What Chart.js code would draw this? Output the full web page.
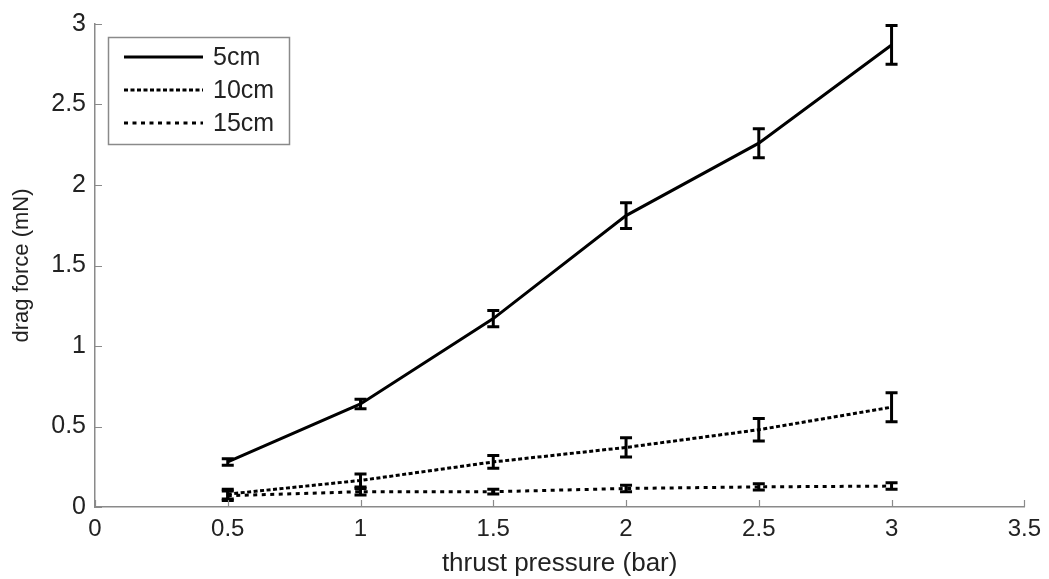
<!DOCTYPE html>
<html>
<head>
<meta charset="utf-8">
<script src="https://cdn.jsdelivr.net/npm/chart.js@4"></script>
<style>
  html, body { margin: 0; padding: 0; background: #fff; }
  #wrap { width: 1049px; height: 579px; }
</style>
</head>
<body>
<div id="wrap"><canvas id="chart"></canvas></div>
<script>
const pressures = [0.5, 1, 1.5, 2, 2.5, 3];

const force5 = [0.28, 0.64, 1.17, 1.81, 2.26, 2.87];
const err5 = [0.02, 0.03, 0.05, 0.08, 0.09, 0.12];

const force10 = [0.08, 0.165, 0.28, 0.37, 0.48, 0.62];
const err10 = [0.03, 0.04, 0.04, 0.06, 0.07, 0.09];

const force15 = [0.07, 0.095, 0.095, 0.115, 0.125, 0.13];
const err15 = [0.03, 0.02, 0.015, 0.02, 0.02, 0.02];

const xTicks = [0, 0.5, 1, 1.5, 2, 2.5, 3, 3.5];
const yTicks = [0, 0.5, 1, 1.5, 2, 2.5, 3];

const FONT = "'Liberation Sans', Arial, sans-serif";
const AXIS_GREY = '#8a8a8a';
const TEXT = '#222';

const toPoints = (values) => pressures.map((x, i) => ({ x, y: values[i] }));

const seriesList = [
  { label: '5cm', values: force5, errors: err5, dash: [] },
  { label: '10cm', values: force10, errors: err10, dash: [4, 2.5] },
  { label: '15cm', values: force15, errors: err15, dash: [4, 4.5] }
];

// vertical error bars with flat caps
const errorBarPlugin = {
  id: 'errorBars',
  afterDatasetsDraw(chart) {
    const { ctx, scales } = chart;
    ctx.save();
    ctx.strokeStyle = '#000';
    ctx.lineWidth = 3;
    ctx.setLineDash([]);
    chart.data.datasets.forEach((ds) => {
      ds.data.forEach((pt, i) => {
        const e = ds.errors[i];
        const x = scales.x.getPixelForValue(pt.x);
        const yTop = scales.y.getPixelForValue(pt.y + e);
        const yBot = scales.y.getPixelForValue(pt.y - e);
        ctx.beginPath();
        ctx.moveTo(x, yTop);
        ctx.lineTo(x, yBot);
        ctx.moveTo(x - 6, yTop);
        ctx.lineTo(x + 6, yTop);
        ctx.moveTo(x - 6, yBot);
        ctx.lineTo(x + 6, yBot);
        ctx.stroke();
      });
    });
    ctx.restore();
  }
};

// inward ticks, matlab style
const innerTickPlugin = {
  id: 'innerTicks',
  afterDraw(chart) {
    const { ctx, scales, chartArea } = chart;
    ctx.save();
    ctx.strokeStyle = AXIS_GREY;
    ctx.lineWidth = 1.2;
    ctx.beginPath();
    xTicks.forEach((v) => {
      const x = Math.round(scales.x.getPixelForValue(v)) + 0.5;
      ctx.moveTo(x, chartArea.bottom);
      ctx.lineTo(x, chartArea.bottom - 7);
    });
    yTicks.forEach((v) => {
      const y = Math.round(scales.y.getPixelForValue(v)) + 0.5;
      ctx.moveTo(chartArea.left, y);
      ctx.lineTo(chartArea.left + 7, y);
    });
    ctx.stroke();
    ctx.restore();
  }
};

const legendBoxPlugin = {
  id: 'legendBox',
  afterDraw(chart) {
    const { ctx } = chart;
    const left = 108, top = 37, w = 181, h = 107;
    ctx.save();
    ctx.fillStyle = '#fff';
    ctx.fillRect(left, top, w, h);
    ctx.strokeStyle = AXIS_GREY;
    ctx.lineWidth = 1.5;
    ctx.strokeRect(left + 0.5, top + 0.5, w, h);
    ctx.font = `25px ${FONT}`;
    ctx.textBaseline = 'middle';
    ctx.fillStyle = TEXT;
    seriesList.forEach((s, i) => {
      const y = 57 + i * 33;
      ctx.strokeStyle = '#000';
      ctx.lineWidth = 3;
      ctx.setLineDash(s.dash);
      ctx.beginPath();
      ctx.moveTo(124, y);
      ctx.lineTo(203, y);
      ctx.stroke();
      ctx.setLineDash([]);
      ctx.fillText(s.label, 213, y + 1);
    });
    ctx.restore();
  }
};

new Chart(document.getElementById('chart'), {
  type: 'line',
  data: {
    datasets: seriesList.map((s) => ({
      label: s.label,
      data: toPoints(s.values),
      errors: s.errors,
      borderColor: '#000',
      borderWidth: 3,
      borderDash: s.dash,
      pointRadius: 0,
      tension: 0,
      fill: false
    }))
  },
  options: {
    responsive: true,
    maintainAspectRatio: false,
    animation: false,
    layout: { padding: { top: 21, right: 19, left: 0, bottom: 0 } },
    plugins: {
      legend: { display: false },
      tooltip: { enabled: false }
    },
    scales: {
      x: {
        type: 'linear',
        min: 0,
        max: 3.5,
        afterBuildTicks: (axis) => { axis.ticks = xTicks.map((v) => ({ value: v })); },
        afterFit: (axis) => { axis.height = 72; },
        grid: { display: false, drawTicks: false },
        border: { display: true, color: AXIS_GREY, width: 1.5 },
        ticks: {
          color: TEXT,
          padding: 8,
          maxRotation: 0,
          font: { family: FONT, size: 24 },
          callback: (v) => String(v)
        },
        title: {
          display: true,
          text: 'thrust pressure (bar)',
          color: TEXT,
          padding: { top: 6, bottom: 0 },
          font: { family: FONT, size: 26 }
        }
      },
      y: {
        type: 'linear',
        min: 0,
        max: 3,
        afterBuildTicks: (axis) => { axis.ticks = yTicks.map((v) => ({ value: v })); },
        afterFit: (axis) => { axis.width = 95; },
        grid: { display: false, drawTicks: false },
        border: { display: true, color: AXIS_GREY, width: 1.5 },
        ticks: {
          color: TEXT,
          padding: 9,
          font: { family: FONT, size: 25 },
          callback: (v) => String(v)
        },
        title: {
          display: true,
          text: 'drag force (mN)',
          color: TEXT,
          padding: { top: 9, bottom: 0 },
          font: { family: FONT, size: 22 }
        }
      }
    }
  },
  plugins: [errorBarPlugin, innerTickPlugin, legendBoxPlugin]
});
</script>
</body>
</html>
